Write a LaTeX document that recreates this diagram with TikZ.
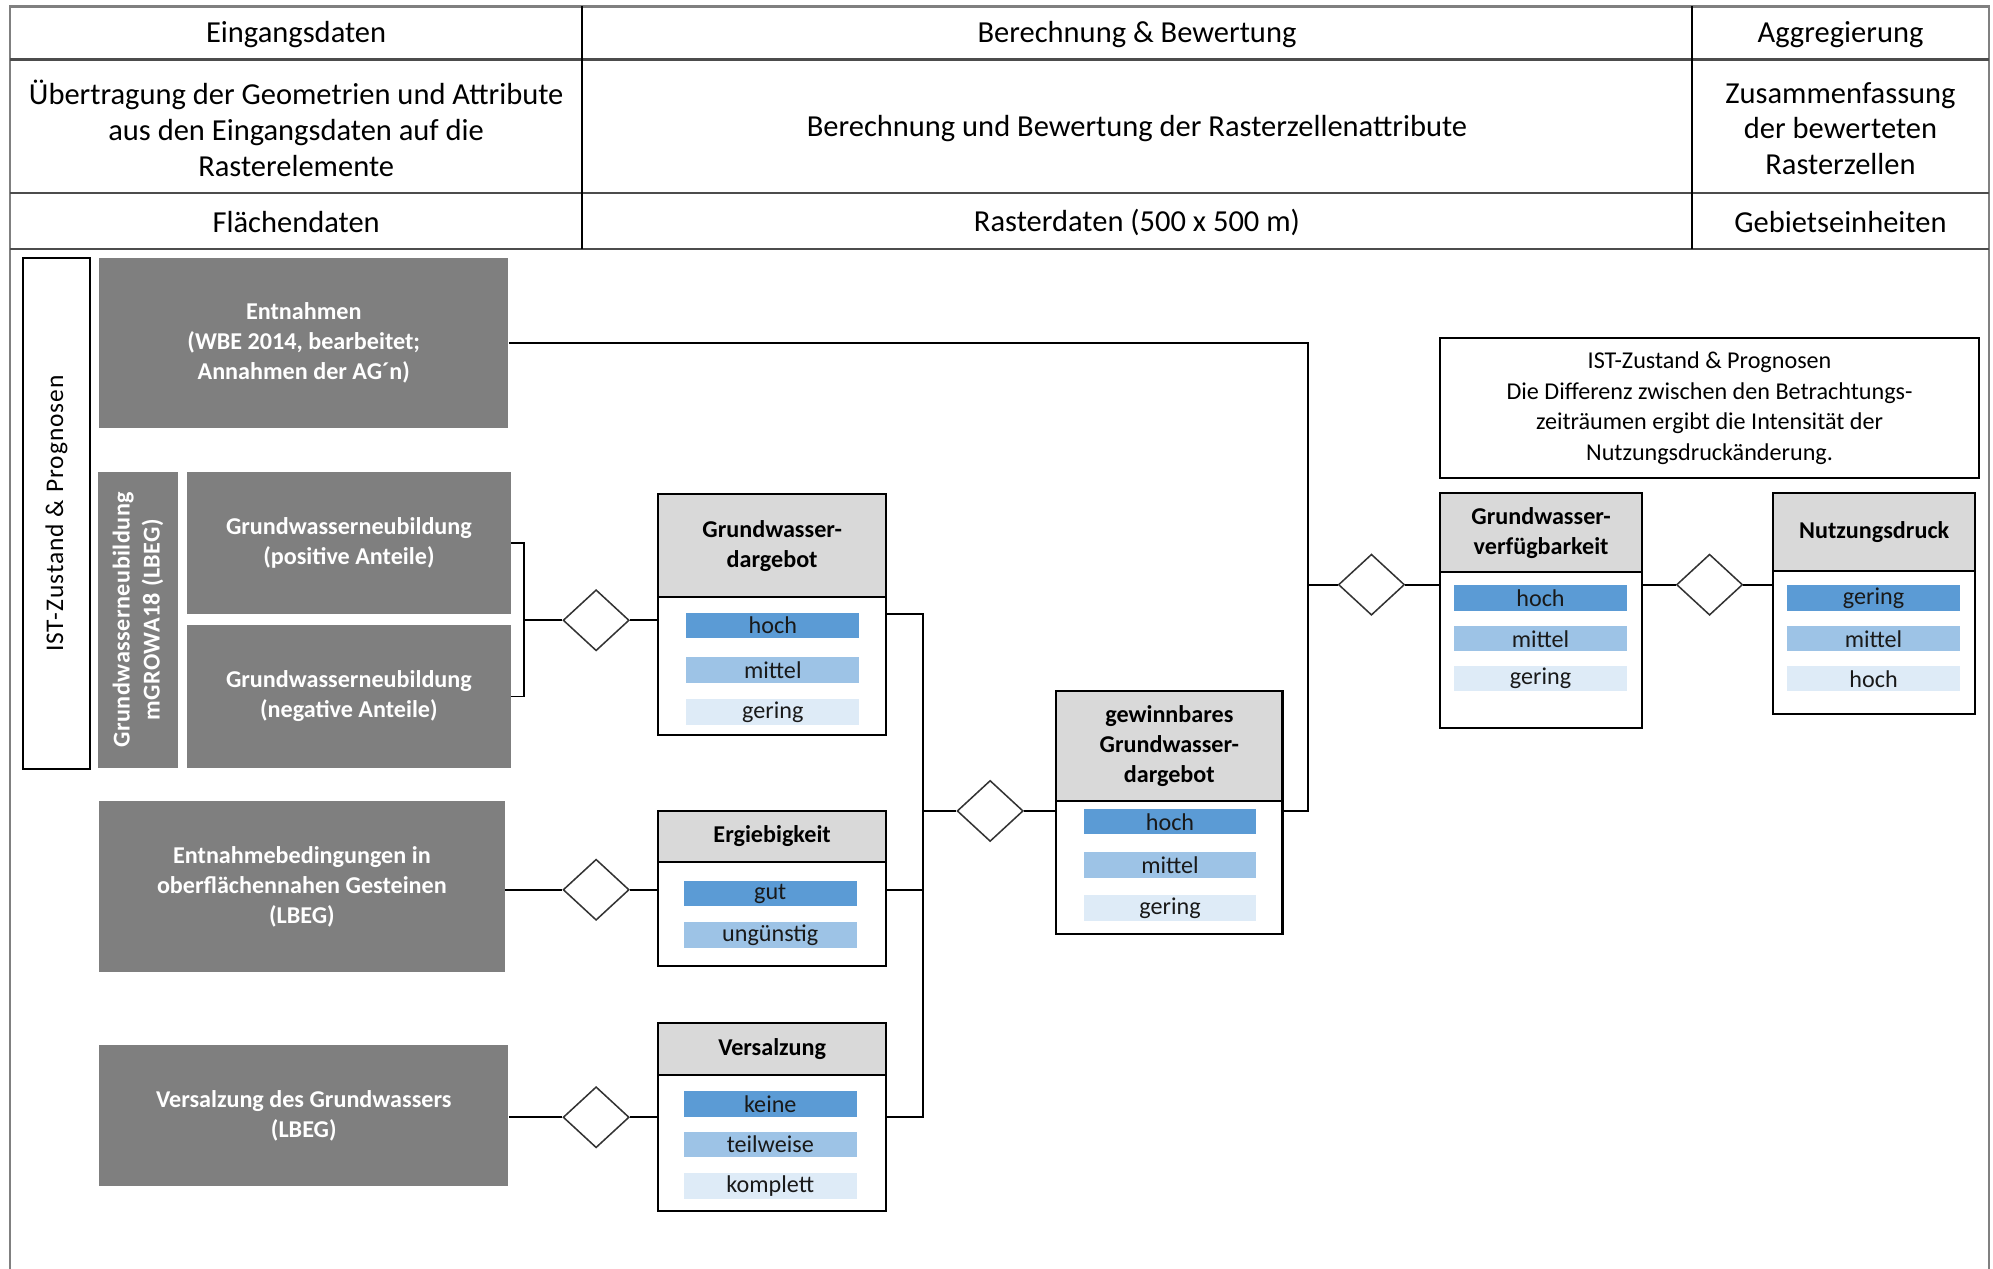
\documentclass[tikz,border=0pt]{standalone}
\usepackage{fontspec}
\setmainfont{Carlito}
\usetikzlibrary{shapes.geometric,calc}
\definecolor{srcgray}{HTML}{7F7F7F}
\definecolor{hdgray}{HTML}{D9D9D9}
\definecolor{barA}{HTML}{5B9BD5}
\definecolor{barB}{HTML}{9DC3E6}
\definecolor{barC}{HTML}{DEEBF7}
\newcommand{\ftab}{\fontsize{12}{14}\selectfont}
\newcommand{\fsrc}{\fontsize{9.5}{11.8}\selectfont\bfseries}
\newcommand{\fcls}{\fontsize{9.5}{11.8}\selectfont\bfseries}
\newcommand{\fbar}{\fontsize{9.5}{10}\selectfont}
\newcommand{\fnote}{\fontsize{9.5}{12}\selectfont}
\tikzset{
  tabtext/.style={font=\ftab, align=center, inner sep=0},
  tabline/.style={draw=black!70, line width=1pt},
  colline/.style={draw=black, line width=0.6pt},
  frameline/.style={draw=black!50, line width=1pt},
  srcbox/.style={fill=srcgray, text=white, font=\fsrc, align=center, inner sep=0},
  clshead/.style={draw=black, fill=hdgray, font=\fcls, align=center, inner sep=0, line width=0.8pt, minimum width=#1},
  clsbody/.style={draw=black, fill=white, inner sep=0, line width=0.8pt, minimum width=#1},
  lvbar/.style={minimum width=68pt, minimum height=10pt, inner sep=0, font=\fbar, text=black!90},
  lvA/.style={lvbar, fill=barA},
  lvB/.style={lvbar, fill=barB},
  lvC/.style={lvbar, fill=barC},
  dia/.style={diamond, draw=black!80, fill=white, minimum width=26pt, minimum height=24pt, inner sep=0, line width=0.6pt},
  conn/.style={draw=black, line width=0.7pt},
}
\begin{document}
\begin{tikzpicture}[x=0.5pt,y=-0.5pt]
\useasboundingbox (0,0) rectangle (1568,998);
% outer frame and header table
\draw[frameline] (8,998) -- (8,5) -- (1565,5) -- (1565,998);
\draw[tabline] (8,47) -- (1565,47);
\draw[tabline] (8,152) -- (1565,152);
\draw[tabline] (8,196) -- (1565,196);
\draw[colline] (458,5) -- (458,196);
\draw[colline] (1331,5) -- (1331,196);

\node[tabtext] (h1a) at (233,27) {Eingangsdaten};
\node[tabtext] (h1b) at (894.5,27) {Berechnung \& Bewertung};
\node[tabtext] (h1c) at (1448,27) {Aggregierung};
\node[tabtext] (h2a) at (233,101) {Übertragung der Geometrien und Attribute\\aus den Eingangsdaten auf die\\Rasterelemente};
\node[tabtext] (h2b) at (894.5,101) {Berechnung und Bewertung der Rasterzellenattribute};
\node[tabtext] (h2c) at (1448,101) {Zusammenfassung\\der bewerteten\\Rasterzellen};
\node[tabtext] (h3a) at (233,175) {Flächendaten};
\node[tabtext] (h3b) at (894.5,175) {Rasterdaten (500 x 500 m)};
\node[tabtext] (h3c) at (1448,175) {Gebietseinheiten};

% left label
\node[draw=black, line width=0.8pt, rotate=90, minimum width=201pt, minimum height=26.5pt, inner sep=0,
      font=\fontsize{10}{12}\selectfont\addfontfeatures{LetterSpace=4}] (ist) at (44.5,404) {IST-Zustand \& Prognosen};

% source boxes
\node[srcbox, minimum width=161pt, minimum height=67pt] (entn) at (239,270)
  {Entnahmen\\(WBE 2014, bearbeitet;\\Annahmen der AG´n)};
\node[srcbox, rotate=90, minimum width=116.5pt, minimum height=31.5pt,
      font=\fsrc\addfontfeatures{LetterSpace=2}] (gwnv) at (108.5,487.5)
  {Grundwasserneubildung\\mGROWA18 (LBEG)};
\node[srcbox, minimum width=127.5pt, minimum height=56pt] (gwnp) at (274.5,427)
  {Grundwasserneubildung\\(positive Anteile)};
\node[srcbox, minimum width=127.5pt, minimum height=56pt] (gwnn) at (274.5,548)
  {Grundwasserneubildung\\(negative Anteile)};
\node[srcbox, minimum width=159.5pt, minimum height=67.5pt] (entb) at (237.5,697.5)
  {Entnahmebedingungen in\\oberflächennahen Gesteinen\\(LBEG)};
\node[srcbox, minimum width=161pt, minimum height=55.5pt] (vers) at (239,877.5)
  {Versalzung des Grundwassers\\(LBEG)};

% diamonds
\node[dia] (d1) at (469,488) {};
\node[dia] (d2) at (469,700) {};
\node[dia] (d3) at (469,879) {};
\node[dia] (d4) at (779,638) {};
\node[dia] (d5) at (1079,460) {};
\node[dia] (d6) at (1345,460) {};

% class: Grundwasserdargebot
\node[clsbody=89.5pt, minimum height=54pt] (gwdB) at (607.5,524) {};
\node[clshead=89.5pt, minimum height=40.5pt] (gwdH) at (607.5,429.5) {Grundwasser-\\dargebot};
\node[lvA] (gwd1) at (608,492) {hoch};
\node[lvB] (gwd2) at (608,527) {mittel};
\node[lvC] (gwd3) at (608,560) {gering};

% class: Ergiebigkeit
\node[clsbody=89.5pt, minimum height=41pt] (ergB) at (607.5,719) {};
\node[clshead=89.5pt, minimum height=20pt] (ergH) at (607.5,658) {Ergiebigkeit};
\node[lvA] (erg1) at (606,703) {gut};
\node[lvB] (erg2) at (606,735.5) {ungünstig};

% class: Versalzung
\node[clsbody=89.5pt, minimum height=53.5pt] (vszB) at (607.5,899.5) {};
\node[clshead=89.5pt, minimum height=20.5pt] (vszH) at (607.5,825.5) {Versalzung};
\node[lvA] (vsz1) at (606,868.5) {keine};
\node[lvB] (vsz2) at (606,900.5) {teilweise};
\node[lvC] (vsz3) at (606,933) {komplett};

% class: gewinnbares Grundwasserdargebot
\node[clsbody=89pt, minimum height=52.5pt] (ggdB) at (920,682.5) {};
\node[clshead=89pt, minimum height=43pt] (ggdH) at (920,587) {gewinnbares\\Grundwasser-\\dargebot};
\node[lvA] (ggd1) at (920.5,646.5) {hoch};
\node[lvB] (ggd2) at (920.5,680.5) {mittel};
\node[lvC] (ggd3) at (920.5,714.5) {gering};

% note
\node[draw=black, line width=0.8pt, fill=white, minimum width=212pt, minimum height=55pt, inner sep=0,
      align=center, font=\fnote] (note) at (1345,321)
  {IST-Zustand \& Prognosen\\Die Differenz zwischen den Betrachtungs-\\zeiträumen ergibt die Intensität der\\Nutzungsdruckänderung.};

% class: Grundwasserverfügbarkeit
\node[clsbody=79.5pt, minimum height=61.5pt] (gwvB) at (1212.5,511.5) {};
\node[clshead=79.5pt, minimum height=31pt] (gwvH) at (1212.5,419) {Grundwasser-\\verfügbarkeit};
\node[lvA] (gwv1) at (1212,470.5) {hoch};
\node[lvB] (gwv2) at (1212,502.5) {mittel};
\node[lvC] (gwv3) at (1212,534) {gering};

% class: Nutzungsdruck
\node[clsbody=79.5pt, minimum height=56.5pt] (ndB) at (1474.5,505.5) {};
\node[clshead=79.5pt, minimum height=30.5pt] (ndH) at (1474.5,418.5) {Nutzungsdruck};
\node[lvA] (nd1) at (1474,470.5) {gering};
\node[lvB] (nd2) at (1474,502.5) {mittel};
\node[lvC] (nd3) at (1474,534) {hoch};

% junction coordinates
\coordinate (br) at (412,488);
\coordinate (j0) at (726,483);
\coordinate (j1) at (726,638);
\coordinate (j2) at (726,700);
\coordinate (j3) at (726,879);
\coordinate (j4) at (1029,638);
\coordinate (j6) at (1029,460);

% connectors
\draw[conn] (gwnp.east) -- (gwnp.east -| br) -- (gwnn.east -| br) -- (gwnn.east);
\draw[conn] (br) -- (d1.west);
\draw[conn] (d1.east) -- (d1.east -| gwdB.west);
\draw[conn] (d2.west -| entb.east) -- (d2.west);
\draw[conn] (d2.east) -- (d2.east -| ergB.west);
\draw[conn] (d3.west -| vers.east) -- (d3.west);
\draw[conn] (d3.east) -- (d3.east -| vszB.west);
\draw[conn] (gwdB.east |- j0) -- (j0) -- (j3) -- (vszB.east |- j3);
\draw[conn] (ergB.east |- j2) -- (j2);
\draw[conn] (j1) -- (d4.west);
\draw[conn] (d4.east) -- (d4.east -| ggdB.west);
\draw[conn] (entn.east) -| (j4) -- (ggdB.east |- j4);
\draw[conn] (j6) -- (d5.west);
\draw[conn] (d5.east) -- (d5.east -| gwvB.west);
\draw[conn] (gwvB.east |- d6.west) -- (d6.west);
\draw[conn] (d6.east) -- (d6.east -| ndB.west);
\end{tikzpicture}
\end{document}
